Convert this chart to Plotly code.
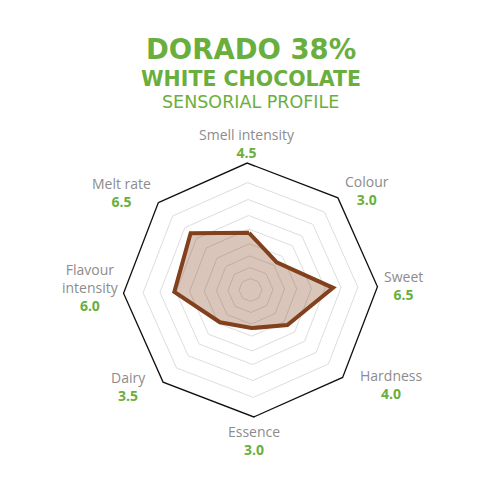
import math
import plotly.graph_objects as go

# ---- data ----
categories = ["Smell intensity", "Colour", "Sweet", "Hardness",
              "Essence", "Dairy", "Flavour intensity", "Melt rate"]
label_lines = ["Smell intensity", "Colour", "Sweet", "Hardness",
               "Essence", "Dairy", "Flavour<br>intensity", "Melt rate"]
values = [4.5, 3.0, 6.5, 4.0, 3.0, 3.5, 6.0, 6.5]
title_lines = ["DORADO 38%", "WHITE CHOCOLATE", "SENSORIAL PROFILE"]

# ---- style ----
W, H = 501, 500
OFF = 8                                  # page body margin of the browser
GREEN = "#6aaf3d"
GRAY = "#8c8c8c"
BROWN = "#83401c"
FONT = "Open Sans"
TFONT = "DejaVu Sans"
cx, cy, R = 250.5 - OFF, 290.0 - OFF, 127.0   # pixel geometry of the radar
rotation = 91.5
grid_levels = [0.9, 1.77, 2.68, 3.64, 4.8, 5.87, 7.13, 8.46]

fig = go.Figure()
fig.add_trace(go.Scatterpolar(
    r=values + [values[0]],
    theta=categories + [categories[0]],
    mode="lines",
    fill="toself",
    fillcolor="rgba(131,64,28,0.30)",
    line=dict(color=BROWN, width=4),
    hoverinfo="skip",
    showlegend=False,
))

annotations = []
n = len(categories)
for i, (lab, v) in enumerate(zip(label_lines, values)):
    th = math.radians(rotation - i * 360 / n)
    c, s = math.cos(th), math.sin(th)
    vx = cx + R * c
    vy = cy - R * s
    xa, ya, xs, ys = "center", "middle", 0, 0
    if abs(c) < 0.2:
        if s > 0:
            ya, ys = "bottom", -1
        else:
            ya, ys = "top", -3
    else:
        sign = 1 if c > 0 else -1
        xa = "left" if c > 0 else "right"
        if s > 0.5:
            xs, ys = 5 * sign, (7 if c > 0 else 10)
        elif s > -0.5:
            xs, ys = (5 if c > 0 else 3) * sign, (1 if c > 0 else 6)
        else:
            xs, ys = 15 * sign, (-7 if c > 0 else -4)
    txt = (f"<span style='color:{GRAY}'>{lab}</span><br>"
           f"<b><span style='color:{GREEN}'>{v:.1f}</span></b>")
    annotations.append(dict(
        x=vx / W, y=(H - vy) / H, xref="paper", yref="paper",
        xanchor=xa, yanchor=ya, xshift=xs, yshift=ys,
        text=txt, showarrow=False, align="center",
        font=dict(family=FONT, size=14, color=GRAY),
    ))

# title lines
title_specs = [(title_lines[0], 27.5, 700, 49.5), (title_lines[1], 20.5, 700, 78.5),
               (title_lines[2], 17.5, 400, 101.5)]
for t, size, wt, ypx in title_specs:
    annotations.append(dict(
        x=(250.8 - OFF) / W, y=(H - (ypx - OFF)) / H, xref="paper", yref="paper",
        xanchor="center", yanchor="middle", text=t, showarrow=False,
        borderpad=0, borderwidth=0,
        font=dict(family=TFONT, size=size, color=GREEN, weight=wt),
    ))

fig.update_layout(
    width=W, height=H,
    margin=dict(l=0, r=0, t=0, b=0),
    paper_bgcolor="white",
    plot_bgcolor="white",
    showlegend=False,
    polar=dict(
        domain=dict(x=[(cx - R) / W, (cx + R) / W],
                    y=[(H - cy - R) / H, (H - cy + R) / H]),
        gridshape="linear",
        bgcolor="white",
        radialaxis=dict(range=[0, 10], tickvals=grid_levels,
                        showticklabels=False, ticks="", showline=False,
                        gridcolor="#dddddd", gridwidth=1),
        angularaxis=dict(rotation=rotation, direction="clockwise",
                         showgrid=False, showticklabels=False, ticks="",
                         showline=True, linecolor="#111111", linewidth=1.3),
    ),
    annotations=annotations,
)

fig.write_html("out.html")
